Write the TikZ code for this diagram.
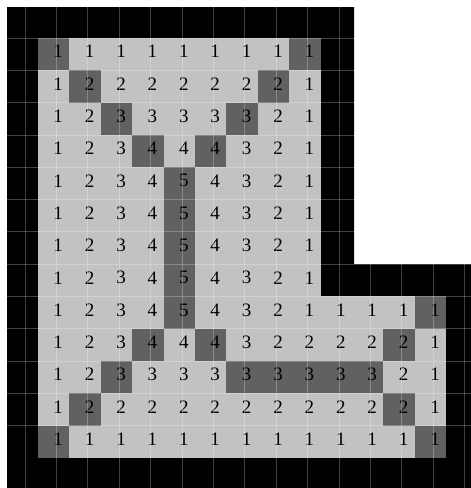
\documentclass[tikz,border=0pt]{standalone}
\usepackage{fontspec}
\setmainfont{Liberation Serif}
\usetikzlibrary{positioning,calc}
\definecolor{lightcell}{gray}{0.76}
\definecolor{darkcell}{gray}{0.38}
\tikzset{
	cell/.style ={rectangle, inner sep=0pt, minimum width=31.4pt, minimum height=32.3pt, fill=lightcell}, % one square of the distance map
	ridge/.style ={cell, fill=darkcell}, % cells on the skeleton
	num/.style = {inner sep=0pt, font=\fontsize{19}{19}\selectfont}
}
% values of the map, row by row
\newcommand{\cellrows}{
	{1,1,1,1,1,1,1,1,1},
	{1,2,2,2,2,2,2,2,1},
	{1,2,3,3,3,3,3,2,1},
	{1,2,3,4,4,4,3,2,1},
	{1,2,3,4,5,4,3,2,1},
	{1,2,3,4,5,4,3,2,1},
	{1,2,3,4,5,4,3,2,1},
	{1,2,3,4,5,4,3,2,1},
	{1,2,3,4,5,4,3,2,1,1,1,1,1},
	{1,2,3,4,4,4,3,2,2,2,2,2,1},
	{1,2,3,3,3,3,3,3,3,3,3,2,1},
	{1,2,2,2,2,2,2,2,2,2,2,2,1},
	{1,1,1,1,1,1,1,1,1,1,1,1,1}}

\begin{document}
\begin{tikzpicture}[x=1pt,y=-1pt,
            gridline/.style={white, opacity=0.25, line width=0.8pt}
        ]
            \useasboundingbox (0,0) rectangle (471,488);
            % black frame round the L
            \fill[black] (7,7) -- (354,7) -- (354,264) -- (471,264) -- (471,488) -- (7,488) -- cycle;
            \foreach \row [count=\r] in \cellrows {
                \foreach \v [count=\c] in \row {
                    \node[cell] (c-\r-\c) at ({38+31.4*(\c-0.5)},{38+32.3*(\r-0.5)}) {};
                }
            }
            \foreach \r/\c in {1/1,1/9,2/2,2/8,3/3,3/7,4/4,4/6,5/5,6/5,7/5,8/5,9/5,9/13,
                10/4,10/6,10/12,11/3,11/7,11/8,11/9,11/10,11/11,12/2,12/12,13/1,13/13}
                \node[ridge] (s-\r-\c) at (c-\r-\c) {};
            \foreach \row [count=\r] in \cellrows {
                \foreach \v [count=\c] in \row {
                    \node[num] (n-\r-\c) at ([xshift=4.5pt,yshift=2.5pt]c-\r-\c.center) {\v};
                }
            }
            % faint lines
            \foreach \k in {0,...,14}
                \draw[gridline] ({25+31.4*\k},7) -- ({25+31.4*\k},488);
            \foreach \k in {0,...,12}
                \draw[gridline] (7,{38+32.3*\k}) -- (471,{38+32.3*\k});
        \end{tikzpicture}
\end{document}
